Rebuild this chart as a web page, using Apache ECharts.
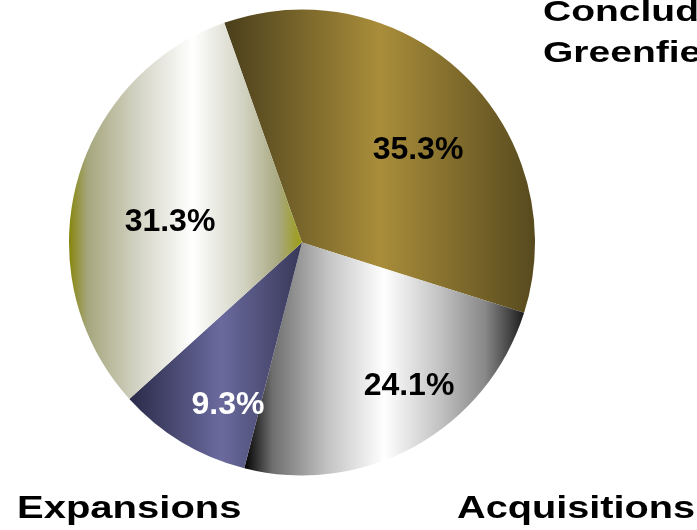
<!DOCTYPE html>
<html>
<head>
<meta charset="utf-8">
<script src="https://cdn.jsdelivr.net/npm/echarts@6/dist/echarts.min.js"></script>
<style>
  html, body { margin: 0; padding: 0; background: #ffffff; }
  #chart { width: 697px; height: 530px; }
</style>
</head>
<body>
<div id="chart"></div>
<script>
// Slice categories and their shares (%)
const categories = ['Concluded Greenfield', 'Acquisitions', 'Expansions', 'Other'];
const shares = [35.3, 24.1, 9.3, 31.3];
const labelColors = ['#000000', '#000000', '#ffffff', '#000000'];

// Horizontal shading for each slice
const sliceStops = [
  [[0, '#4a3f1c'], [0.5, '#a98d3a'], [1, '#574a1e']],
  [[0, '#000000'], [0.1, '#6e6e6e'], [0.3, '#c4c4c4'], [0.5, '#ffffff'], [0.7, '#c2c2c2'], [0.86, '#888888'], [1, '#1c1c1c']],
  [[0, '#2a2a48'], [0.53, '#6a6a9e'], [1, '#383858']],
  [[0, '#86860c'], [0.08, '#a6a67e'], [0.3, '#d4d4c6'], [0.53, '#ffffff'], [0.75, '#d2d2c2'], [0.9, '#a8a880'], [1, '#9c9c14']]
];

// Percentage label placement, offset from the pie centre
const labelOffsets = [[116, -92], [107, 144], [-74, 163], [-132, -20]];

const CX = 302, CY = 242.5, R = 233;
const FONT = '"Liberation Sans", Arial, sans-serif';

const chart = echarts.init(document.getElementById('chart'), null, { renderer: 'canvas' });

const pieData = shares.map((v, i) => ({
  name: categories[i],
  value: v,
  itemStyle: {
    color: new echarts.graphic.LinearGradient(0, 0, 1, 0,
      sliceStops[i].map(s => ({ offset: s[0], color: s[1] })))
  },
  label: {
    color: labelColors[i],
    offset: labelOffsets[i]
  }
}));

// Category captions around the pie (wide bold lettering)
function caption(text, x, y, size, stretch) {
  return {
    type: 'text',
    x: x, y: y,
    scaleX: stretch,
    style: {
      text: text,
      x: 0, y: 0,
      font: 'bold ' + size + 'px ' + FONT,
      fill: '#000000',
      textAlign: 'left',
      textVerticalAlign: 'middle',
      lineHeight: 41
    },
    z: 10
  };
}

chart.setOption({
  animation: false,
  backgroundColor: '#ffffff',
  series: [{
    type: 'pie',
    center: [CX, CY],
    radius: R,
    startAngle: 109.5,
    clockwise: true,
    avoidLabelOverlap: false,
    itemStyle: { borderWidth: 0 },
    emphasis: { disabled: true },
    label: {
      show: true,
      position: 'center',
      formatter: p => p.value.toFixed(1) + '%',
      fontFamily: FONT,
      fontWeight: 'bold',
      fontSize: 32
    },
    labelLine: { show: false },
    data: pieData
  }],
  graphic: [
    caption(categories[0].replace(' ', '\n'), 543, 33, 30, 1.3),
    caption(categories[2], 17, 509, 32, 1.25),
    caption(categories[1], 457, 509, 32, 1.24)
  ]
});
</script>
</body>
</html>
